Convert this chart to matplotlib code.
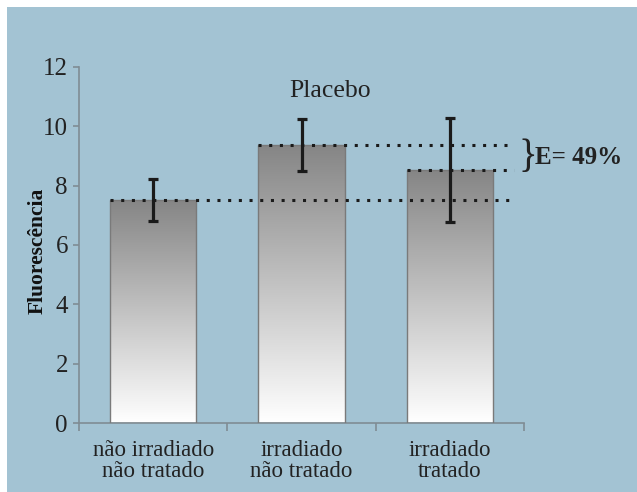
import numpy as np
import matplotlib.pyplot as plt
from matplotlib.patches import Rectangle

# dados
grupos = ['não irradiado\nnão tratado', 'irradiado\nnão tratado', 'irradiado\ntratado']
medias = [7.52, 9.38, 8.53]
erros = [0.72, 0.88, 1.74]
yticks = [0, 2, 4, 6, 8, 10, 12]

plt.rcParams['font.family'] = ['Liberation Serif', 'DejaVu Serif']

fig = plt.figure(figsize=(6.37, 4.92), dpi=100)
fig.patch.set_facecolor('white')
fundo = '#a3c3d3'
fig.patches.append(Rectangle((7 / 637, 0), 1, 1 - 7 / 492, transform=fig.transFigure,
                             facecolor=fundo, edgecolor='none', zorder=-10))

ax = fig.add_axes([79 / 637, 1 - 423 / 492, 445 / 637, 356 / 492])
ax.set_zorder(5)
ax.set_facecolor('none')

x = np.arange(len(grupos))
largura = 0.58
barras = ax.bar(x, medias, largura, color='none', edgecolor='#7a7a7a', linewidth=1, zorder=3)

# gradiente cinza -> branco em cada barra
grad = np.linspace(0, 1, 256).reshape(-1, 1)
cmap = plt.matplotlib.colors.LinearSegmentedColormap.from_list('g', ['#ffffff', '#858585'])
for b in barras:
    x0, y0 = b.get_x(), b.get_y()
    w, h = b.get_width(), b.get_height()
    im = ax.imshow(grad, extent=(x0, x0 + w, y0, y0 + h), origin='lower', cmap=cmap,
                   aspect='auto', zorder=2, interpolation='bicubic')
    im.set_clip_path(b)

ax.errorbar(x, medias, yerr=erros, fmt='none', ecolor='#1a1a1a', elinewidth=2.3,
            capsize=3.5, capthick=2.3, zorder=5)

# linhas pontilhadas
fim = 2.43
for i, m in enumerate(medias):
    ax.plot([x[i] - largura / 2, fim], [m, m], color='#1a1a1a', linewidth=2.2,
            linestyle=(0, (1, 2.5)), dash_capstyle='butt', zorder=4)

ax.text(2.462, (medias[1] + medias[2]) / 2, '}', fontsize=28, ha='left', va='center',
        color='#222222', clip_on=False)
ax.text(2.575, (medias[1] + medias[2]) / 2, 'E= 49%', fontsize=18, fontweight='bold',
        ha='left', va='center', color='#222222', clip_on=False)
ax.text(1.19, 11.2, 'Placebo', fontsize=18.5, ha='center', va='center', color='#222222')

ax.set_xlim(-0.5, 2.5)
ax.set_ylim(0, 12)
ax.set_yticks(yticks)
ax.set_xticks([-0.5, 0.5, 1.5, 2.5])
ax.set_xticklabels([])
ax.set_xticks(x, minor=True)
ax.set_xticklabels(grupos, minor=True, fontsize=16.5, color='#222222', linespacing=1.05)
ax.tick_params(axis='x', which='minor', length=0, pad=12)
ax.tick_params(axis='x', which='major', length=6, color='#7f8c94', width=1.2)
ax.tick_params(axis='y', length=4, color='#7f8c94', width=1.2, labelsize=18, pad=4,
               labelcolor='#222222')

for s in ['top', 'right']:
    ax.spines[s].set_visible(False)
for s in ['left', 'bottom']:
    ax.spines[s].set_color('#7f8c94')
    ax.spines[s].set_linewidth(1.2)

ax.set_ylabel('Fluorescência', fontsize=15.5, fontweight='bold', color='#111111')
ax.yaxis.set_label_coords(-0.07, 0.483)

plt.savefig('out.png', dpi=100, facecolor=fig.get_facecolor())
